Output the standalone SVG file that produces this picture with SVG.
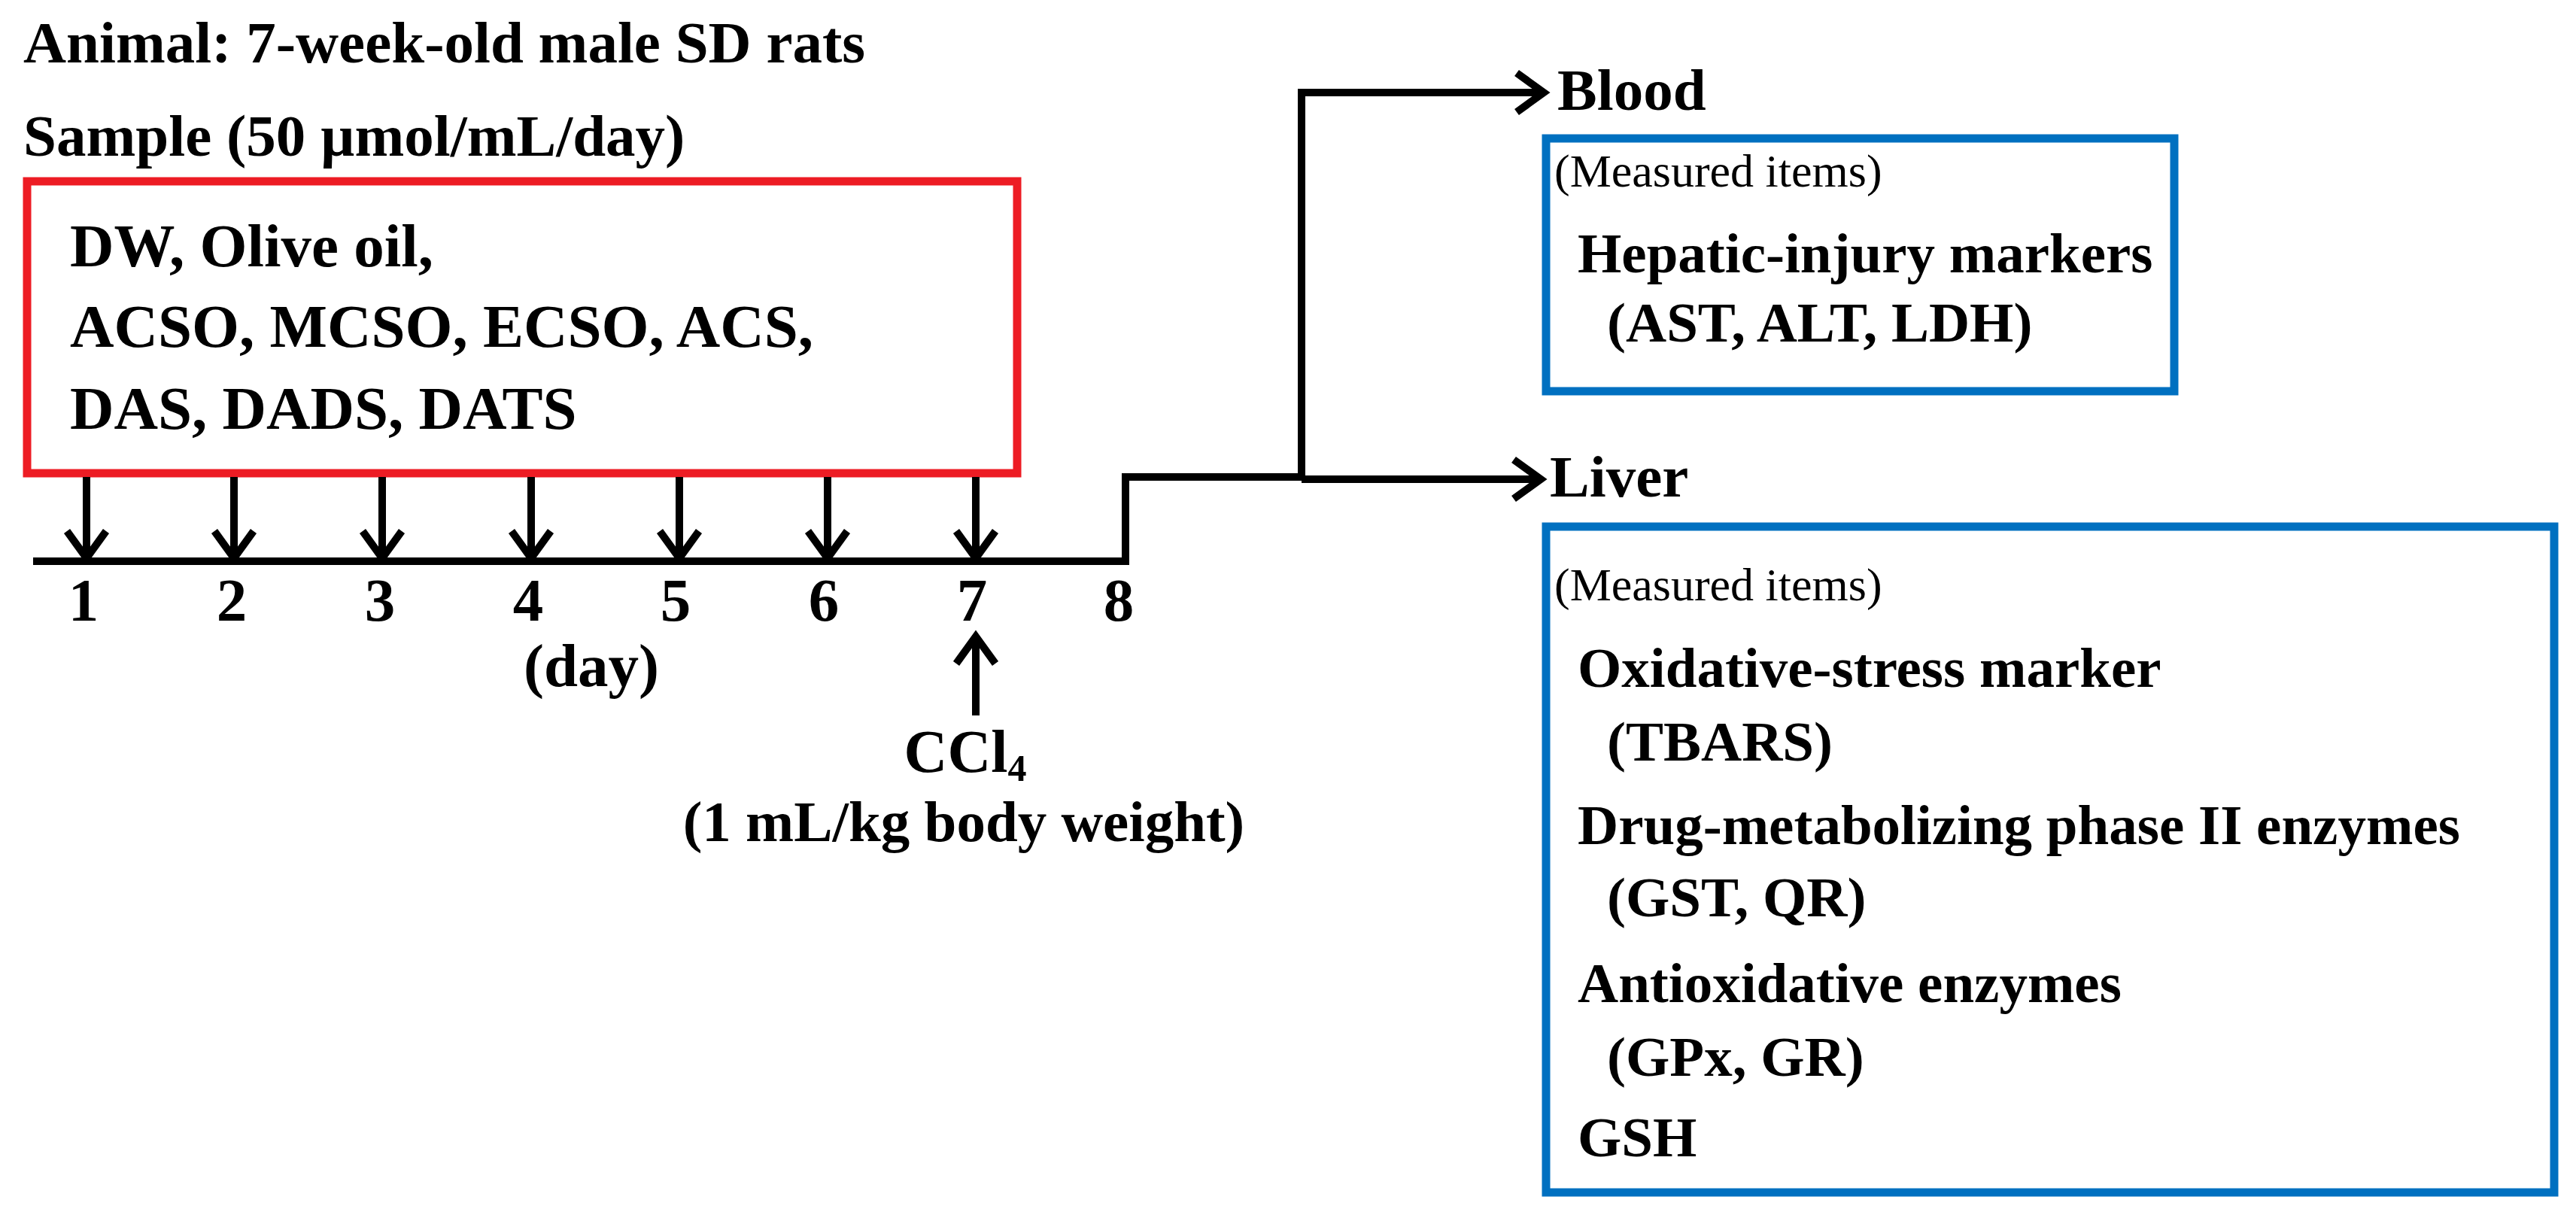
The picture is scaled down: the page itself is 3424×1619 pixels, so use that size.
<svg xmlns="http://www.w3.org/2000/svg" width="3424" height="1619" viewBox="0 0 3424 1619">
<style>
text{font-family:"Liberation Serif","Times New Roman",serif;fill:#000}
.b{font-weight:bold}
.h{font-size:79px}
.t{font-size:81px}
.m{font-size:62px}
.r{font-size:75px}
.ln{fill:none;stroke:#000;stroke-width:10}
</style>
<defs>
<marker id="ah" markerUnits="userSpaceOnUse" markerWidth="80" markerHeight="80" refX="40" refY="40" orient="auto" viewBox="0 0 80 80">
<polyline points="4,14 40,40 4,66" fill="none" stroke="#000" stroke-width="10"/>
</marker>
</defs>
<g id="header">
<text class="b h" x="31" y="83">Animal: 7-week-old male SD rats</text>
<text class="b h" x="31" y="207">Sample (50 µmol/mL/day)</text>
</g>
<g id="samples">
<rect x="36" y="241" width="1316" height="388" fill="none" stroke="#ED1C24" stroke-width="11"/>
<text class="b t" x="93" y="354">DW, Olive oil,</text>
<text class="b t" x="93" y="461">ACSO, MCSO, ECSO, ACS,</text>
<text class="b t" x="93" y="570">DAS, DADS, DATS</text>
</g>
<g id="days" class="b t" text-anchor="middle">
<text x="111" y="825">1</text><text x="308" y="825">2</text><text x="505" y="825">3</text><text x="702" y="825">4</text><text x="898" y="825">5</text><text x="1095" y="825">6</text><text x="1292" y="825">7</text><text x="1487" y="825">8</text>
<text x="786" y="912">(day)</text>
</g>
<g id="ccl4" class="b" text-anchor="middle">
<text font-size="80" x="1283" y="1026">CCl<tspan font-size="50" dy="12">4</tspan></text>
<text font-size="77" x="1281" y="1118">(1 mL/kg body weight)</text>
</g>
<g id="blood">
<text class="b h" x="2070" y="146">Blood</text>
<rect x="2055" y="184" width="835" height="336" fill="none" stroke="#0070C0" stroke-width="11"/>
<text class="m" x="2066" y="248">(Measured items)</text>
<text class="b r" x="2097" y="362">Hepatic-injury markers</text>
<text class="b r" x="2136" y="454">(AST, ALT, LDH)</text>
</g>
<g id="liver">
<text class="b h" x="2060" y="660">Liver</text>
<rect x="2055" y="700" width="1340" height="885" fill="none" stroke="#0070C0" stroke-width="11"/>
<text class="m" x="2066" y="798">(Measured items)</text>
<text class="b r" x="2097" y="913">Oxidative-stress marker</text>
<text class="b r" x="2136" y="1011">(TBARS)</text>
<text class="b r" x="2097" y="1122">Drug-metabolizing phase II enzymes</text>
<text class="b r" x="2136" y="1218">(GST, QR)</text>
<text class="b r" x="2097" y="1332">Antioxidative enzymes</text>
<text class="b r" x="2136" y="1430">(GPx, GR)</text>
<text class="b r" x="2097" y="1537">GSH</text>
</g>
<g id="connectors">
<polyline class="ln" points="44,746 1496,746 1496,634 1730,634"/>
<g class="ln" marker-end="url(#ah)">
<line x1="115" y1="634" x2="115" y2="742"/>
<line x1="311" y1="634" x2="311" y2="742"/>
<line x1="508" y1="634" x2="508" y2="742"/>
<line x1="706" y1="634" x2="706" y2="742"/>
<line x1="903" y1="634" x2="903" y2="742"/>
<line x1="1100" y1="634" x2="1100" y2="742"/>
<line x1="1297" y1="634" x2="1297" y2="742"/>
<line x1="1297" y1="951" x2="1297" y2="846"/>
<polyline points="1730,634 1730,123 2052,123"/>
<line x1="1730" y1="637" x2="2048" y2="637"/>
</g>
</g>
</svg>
